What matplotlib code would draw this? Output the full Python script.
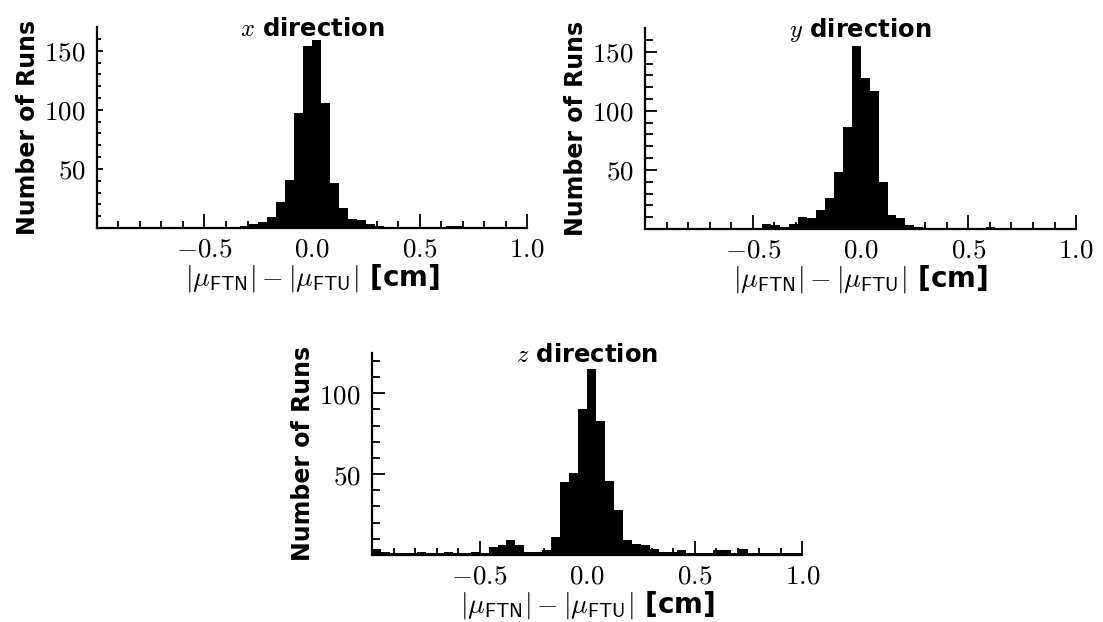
import numpy as np
import matplotlib.pyplot as plt
from matplotlib.ticker import FixedLocator

plt.rcParams['mathtext.fontset'] = 'cm'
plt.rcParams['font.family'] = 'DejaVu Sans'
plt.rcParams['font.weight'] = 'bold'

# 48 bins of width 1/24 cm between -1 and 1
bin_edges = np.linspace(-1.0, 1.0, 49)

counts_x = [1, 0, 1, 1, 0, 1, 1, 1, 0, 1, 1, 1, 1, 1, 1, 1,
            2, 3, 5, 9, 22, 41, 97, 154, 159, 106, 38, 17, 8, 7, 3, 2,
            1, 1, 1, 0, 1, 1, 1, 2, 2, 1, 1, 0, 1, 1, 0, 1]
counts_y = [1, 0, 1, 1, 0, 1, 1, 0, 1, 1, 1, 0, 1, 4, 3, 2,
            4, 10, 9, 16, 26, 48, 86, 155, 128, 117, 40, 12, 9, 3, 2, 1,
            1, 0, 1, 1, 1, 0, 2, 1, 1, 0, 1, 0, 1, 0, 1, 1]
counts_z = [4, 2, 1, 1, 1, 2, 1, 1, 2, 1, 1, 2, 1, 5, 6, 9,
            6, 2, 2, 3, 11, 45, 51, 90, 115, 83, 46, 28, 9, 7, 6, 4,
            2, 2, 3, 1, 1, 1, 3, 3, 1, 4, 1, 1, 1, 1, 1, 1]

x_ticks = [-0.5, 0.0, 0.5, 1.0]
x_tick_labels = ['$-0.5$', '$0.0$', '$0.5$', '$1.0$']
x_minor = [-0.9, -0.8, -0.7, -0.6, -0.4, -0.3, -0.2, -0.1,
           0.1, 0.2, 0.3, 0.4, 0.6, 0.7, 0.8, 0.9]

xlabel = r'$|\mu_{\mathsf{FTN}}| - |\mu_{\mathsf{FTU}}|$ [cm]'
ylabel = 'Number of Runs'

# counts, title, axes rect, y max, y ticks, y tick length (major, minor)
panels = [
    (counts_x, '$x$ direction', [0.0879, 0.6334, 0.390, 0.323], 170,
     [50, 100, 150], (4.5, 3.0)),
    (counts_y, '$y$ direction', [0.5848, 0.6318, 0.3908, 0.323], 170,
     [50, 100, 150], (8.5, 5.5)),
    (counts_z, '$z$ direction', [0.3373, 0.1077, 0.390, 0.325], 125,
     [50, 100], (9.5, 6.0)),
]

fig = plt.figure(figsize=(11.03, 6.22), dpi=100)

for counts, title, rect, ymax, yticks, ylen in panels:
    ax = fig.add_axes(rect)
    ax.stairs(counts, bin_edges, fill=True, color='black', linewidth=0)

    ax.set_xlim(-1.0, 1.0)
    ax.set_ylim(0, ymax)

    ax.xaxis.set_major_locator(FixedLocator(x_ticks))
    ax.set_xticklabels(x_tick_labels)
    ax.xaxis.set_minor_locator(FixedLocator(x_minor))
    ax.yaxis.set_major_locator(FixedLocator(yticks))
    ax.set_yticklabels([f'${v}$' for v in yticks])
    ax.yaxis.set_minor_locator(FixedLocator(list(range(10, ymax, 10))))

    ax.tick_params(axis='x', which='major', direction='in', length=10,
                   width=1.3, labelsize=19.5, pad=6)
    ax.tick_params(axis='x', which='minor', direction='in', length=5,
                   width=1.3)
    ax.tick_params(axis='y', which='major', direction='in', length=ylen[0],
                   width=1.3, labelsize=19.5, pad=8)
    ax.tick_params(axis='y', which='minor', direction='in', length=ylen[1],
                   width=1.3)

    for side in ('top', 'right'):
        ax.spines[side].set_visible(False)
    for side in ('left', 'bottom'):
        ax.spines[side].set_linewidth(1.6)

    ax.set_xlabel(xlabel, fontsize=20, fontweight='bold', labelpad=0)
    ax.set_ylabel(ylabel, fontsize=17, fontweight='bold', labelpad=3)
    ax.text(0.5, 0.955, title, transform=ax.transAxes, ha='center',
            va='baseline', fontsize=17.5, fontweight='bold')

fig.savefig('out.png', dpi=100)
